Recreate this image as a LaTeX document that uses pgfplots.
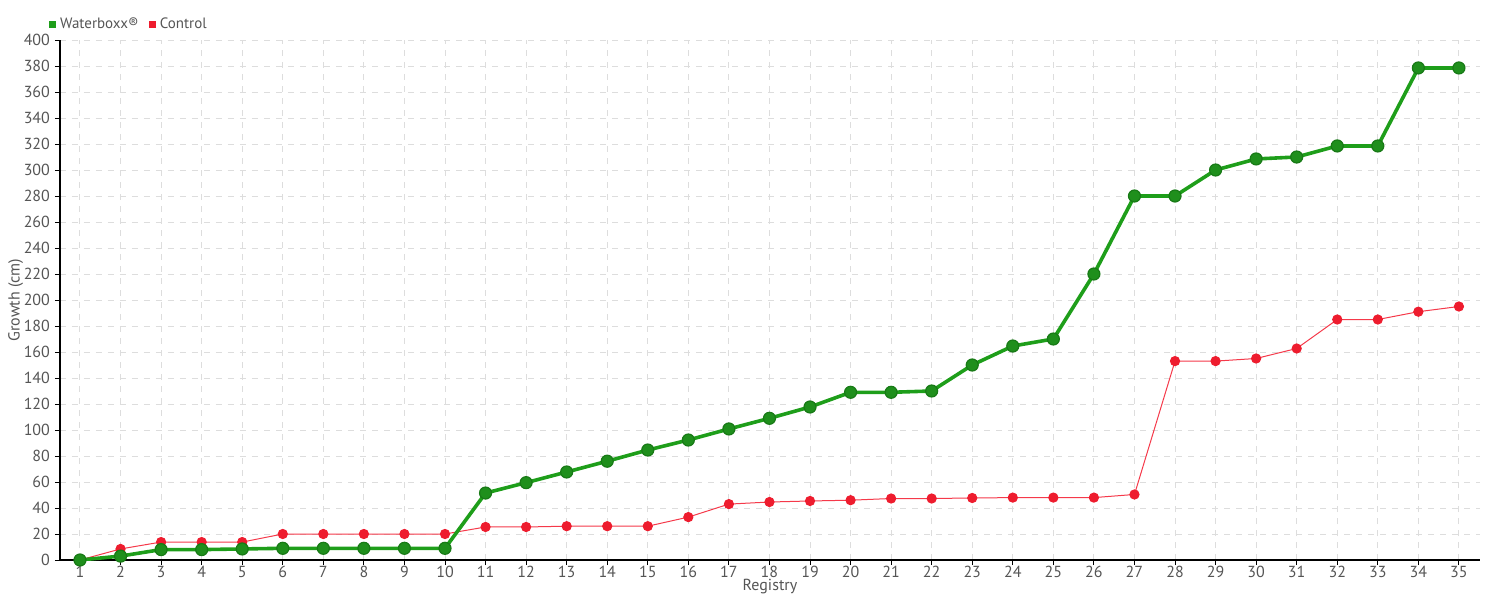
\documentclass[border=0pt]{standalone}
\usepackage{pgfplots}
\pgfplotsset{compat=1.18}
\usepackage{fontspec}
\setmainfont{PT Sans}
\definecolor{gline}{HTML}{1E9E1A}
\definecolor{gfill}{HTML}{1F8F1C}
\definecolor{gedge}{HTML}{187A16}
\definecolor{rline}{HTML}{F5394A}
\definecolor{rfill}{HTML}{EE1C2E}
\definecolor{txt}{HTML}{555555}
\definecolor{gridc}{HTML}{DDDDDD}
\begin{document}
\begin{tikzpicture}
\useasboundingbox (-30pt,-20pt) rectangle (720pt,280pt);
\begin{axis}[
  scale only axis,
  width=710pt, height=260pt,
  xmin=0.507, xmax=35.52,
  ymin=0, ymax=400,
  xtick={1,...,35},
  ytick={0,20,...,400},
  axis lines=left,
  axis line style={-, black, line width=0.6pt},
  tick align=outside,
  major tick length=2.5pt,
  tick style={black, line width=0.5pt},
  grid=major,
  major grid style={gridc, dashed, line width=0.5pt},
  font=\fontsize{8}{9}\selectfont,
  tick label style={txt},
  /pgf/number format/assume math mode=true,
  xticklabel style={yshift=3pt},
  yticklabel style={xshift=1pt},
  xlabel={Registry},
  ylabel={Growth (cm)},
  label style={txt},
  xlabel style={yshift=6pt},
  ylabel style={yshift=-6.5pt},
  legend style={at={(axis description cs:-0.008,1.03)}, anchor=west, draw=none, fill=none,
    font=\fontsize{7.5}{9}\selectfont\color{txt}, legend columns=2,
    /tikz/every even column/.append style={column sep=3pt}, inner sep=0pt},
  legend image code/.code={\fill[#1] (0pt,-1.8pt) rectangle (3.6pt,1.8pt);},
  legend cell align=left,
]
\addlegendimage{fill=gline, draw=none}
\addlegendentry{Waterboxx®}
\addlegendimage{fill=rfill, draw=none}
\addlegendentry{Control}
\addplot[rline, line width=0.5pt, mark=*, mark size=2.3pt, mark options={fill=rfill, draw=rfill}] coordinates {
(1,0) (2,8.5) (3,13.8) (4,13.8) (5,13.8) (6,20) (7,20) (8,20) (9,20) (10,20)
(11,25.4) (12,25.4) (13,26) (14,26) (15,26) (16,33) (17,43) (18,44.6) (19,45.4) (20,46)
(21,47.3) (22,47.3) (23,47.7) (24,48) (25,48) (26,48) (27,50.4) (28,153) (29,153) (30,155)
(31,162.7) (32,185) (33,185) (34,191) (35,195)
};
\addplot[gline, line width=1.8pt, mark=*, mark size=3pt, mark options={fill=gfill, draw=gedge, line width=0.6pt}] coordinates {
(1,0) (2,3) (3,8) (4,8) (5,8.5) (6,9) (7,9) (8,9) (9,9) (10,9)
(11,51.5) (12,59.5) (13,67.7) (14,76) (15,84.6) (16,92.3) (17,100.8) (18,109) (19,117.7) (20,129)
(21,129) (22,130) (23,150) (24,164.6) (25,170) (26,220) (27,280) (28,280) (29,300) (30,308.5)
(31,310) (32,318.5) (33,318.5) (34,378.5) (35,378.5)
};
\end{axis}
\end{tikzpicture}
\end{document}
